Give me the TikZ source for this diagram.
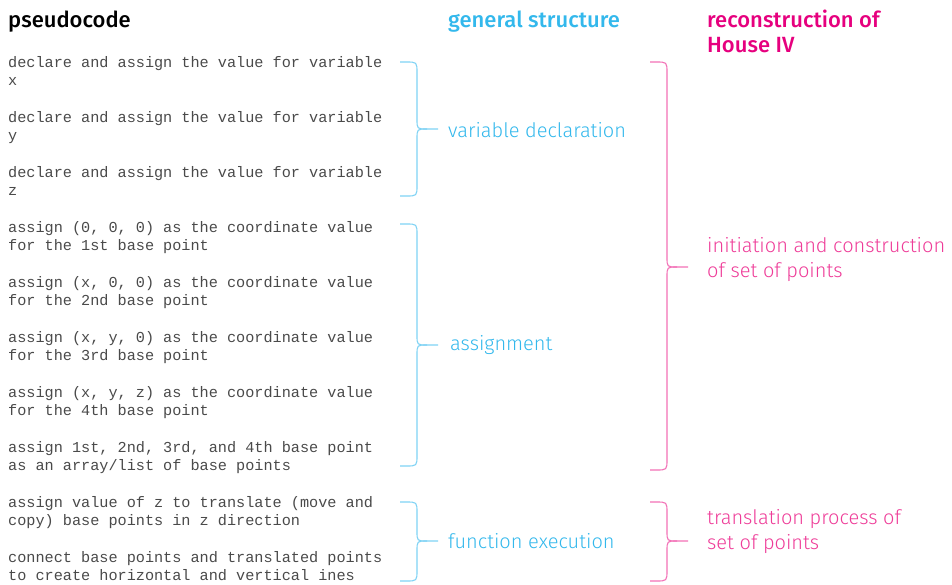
\documentclass[tikz,border=0pt]{standalone}
\usepackage{fontspec}
\setmainfont{Fira Sans}
\setmonofont{Liberation Mono}
\newfontfamily\lightsans{Fira Sans Light}
\newfontfamily\headsans{Fira Sans Medium}
\definecolor{codegray}{HTML}{4A4A4A}
\definecolor{skyblue}{HTML}{33B8EC}
\definecolor{skybrace}{HTML}{7ED2F4}
\definecolor{hotpink}{HTML}{E6007E}
\definecolor{pinklabel}{HTML}{EE3C98}
\definecolor{pinkbrace}{HTML}{F270B6}
% right-pointing curly brace: style, left x, top y, bottom y, tip y, tip end x
\newcommand\curlybrace[6]{%
  \draw[#1] (#2,#3) -- (#2+6,#3) .. controls (#2+17,#3) .. (#2+17,#3+11)
    -- (#2+17,#5-10) .. controls (#2+17,#5) .. (#2+27,#5) -- (#6,#5);
  \draw[#1] (#2+27,#5) .. controls (#2+17,#5) .. (#2+17,#5+10)
    -- (#2+17,#4-11) .. controls (#2+17,#4) .. (#2+6,#4) -- (#2,#4);
}
\tikzset{
  code/.style={anchor=base west, inner sep=0pt, align=left, text=codegray,
    font=\ttfamily\fontsize{15.2}{18}\selectfont},
  head/.style={anchor=base west, inner sep=0pt, align=left,
    font=\headsans\fontsize{22}{25}\selectfont},
  lbl/.style={anchor=west, inner sep=0pt, align=left,
    font=\lightsans\fontsize{20}{25}\selectfont},
  bluebrace/.style={draw=skybrace, line width=1.1pt},
  pinkbr/.style={draw=pinkbrace, line width=1.1pt},
}
\begin{document}
\begin{tikzpicture}[x=1pt,y=-1pt]
\useasboundingbox (0,0) rectangle (952,584);

% column headings (base anchor sits on the last line)
\node[head, text=black] (hcode) at (8,27) {pseudocode};
\node[head, text=skyblue] (hstruct) at (448,27) {general structure};
\node[head, text=hotpink] (hhouse) at (707,52) {reconstruction of\\House IV};

% pseudocode lines (base anchor sits on the second line)
\node[code] (c1) at (8,85) {declare and assign the value for variable\\x};
\node[code] (c2) at (8,140) {declare and assign the value for variable\\y};
\node[code] (c3) at (8,195) {declare and assign the value for variable\\z};
\node[code] (c4) at (8,250) {assign (0, 0, 0) as the coordinate value\\for the 1st base point};
\node[code] (c5) at (8,305) {assign (x, 0, 0) as the coordinate value\\for the 2nd base point};
\node[code] (c6) at (8,360) {assign (x, y, 0) as the coordinate value\\for the 3rd base point};
\node[code] (c7) at (8,415) {assign (x, y, z) as the coordinate value\\for the 4th base point};
\node[code] (c8) at (8,470) {assign 1st, 2nd, 3rd, and 4th base point\\as an array/list of base points};
\node[code] (c9) at (8,525) {assign value of z to translate (move and\\copy) base points in z direction};
\node[code] (c10) at (8,580) {connect base points and translated points\\to create horizontal and vertical ines};

% general structure braces
\curlybrace{bluebrace}{400}{62}{196}{129}{438}
\curlybrace{bluebrace}{400}{224}{466}{345}{438}
\curlybrace{bluebrace}{400}{502}{581}{541}{438}
\node[lbl, text=skyblue] (s1) at (448,130) {variable declaration};
\node[lbl, text=skyblue] (s2) at (450,345) {assignment};
\node[lbl, text=skyblue] (s3) at (448,541) {function execution};

% reconstruction braces
\curlybrace{pinkbr}{650}{62}{470}{267}{688}
\curlybrace{pinkbr}{650}{502}{581}{541}{688}
\node[lbl, text=pinklabel] (r1) at (707,260) {initiation and construction\\of set of points};
\node[lbl, text=pinklabel] (r2) at (707,532) {translation process of\\set of points};
\end{tikzpicture}
\end{document}
